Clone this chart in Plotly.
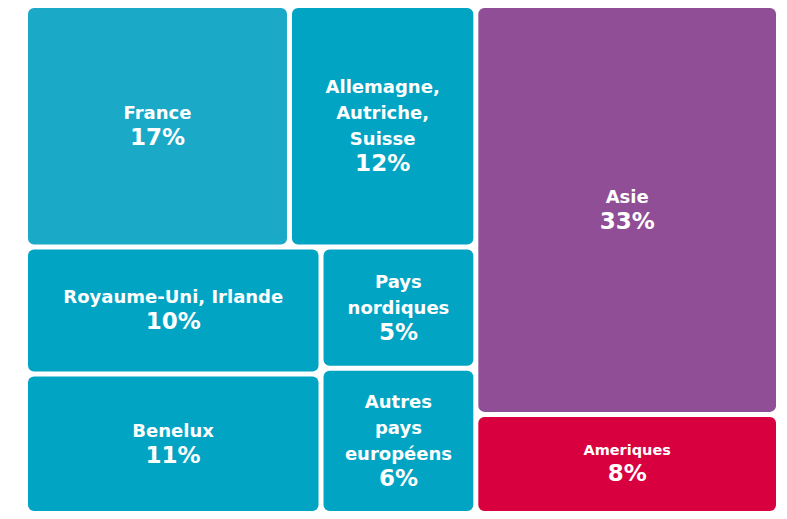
import plotly.graph_objects as go

# Régions (feuilles) et leurs parts en %
regions = ["France", "Allemagne", "Royaume-Uni", "Benelux", "Nordiques", "Autres", "Asie", "Ameriques"]
region_labels = [
    "France",
    "Allemagne,<br>Autriche,<br>Suisse",
    "Royaume-Uni, Irlande",
    "Benelux",
    "Pays<br>nordiques",
    "Autres<br>pays<br>européens",
    "Asie",
    "Ameriques",
]
shares = [17, 12, 10, 11, 5, 6, 33, 8]
region_parents = ["Haut", "Haut", "ColG", "ColG", "ColD", "ColD", "Monde", "Monde"]
region_colors = ["#1aa9c7", "#02a4c4", "#02a4c4", "#02a4c4", "#02a4c4", "#02a4c4", "#8f4e96", "#d8003e"]
label_sizes = [18, 18, 18, 18, 18, 18, 18, 14.5]
pct_sizes = [23, 23, 23, 23, 23, 23, 23, 23]

# Groupes invisibles qui servent à reproduire la disposition
groups = ["Total", "Europe", "Monde", "Haut", "Bas", "ColG", "ColD"]
group_parents = ["", "Total", "Total", "Europe", "Europe", "Bas", "Bas"]

ids = groups + regions
parents = group_parents + region_parents
values = [0] * len(groups) + shares
colors = ["rgba(0,0,0,0)"] * len(groups) + region_colors


def label_html(lab, v, ls, ps):
    lines = [f"<span style='font-size:{ls}px'>{l}</span>" for l in lab.split("<br>")]
    return "<br>".join(lines) + f"<br><span style='font-size:{ps}px'>{v}%</span>"


templates = [""] * len(groups) + [
    label_html(lab, v, ls, ps)
    for lab, v, ls, ps in zip(region_labels, shares, label_sizes, pct_sizes)
]

fig = go.Figure(
    go.Treemap(
        ids=ids,
        labels=ids,
        parents=parents,
        values=values,
        sort=False,
        texttemplate=templates,
        textposition="middle center",
        textfont=dict(family="DejaVu Sans", size=20, color="white", weight="bold"),
        hoverinfo="skip",
        marker=dict(
            colors=colors,
            cornerradius=6,
            line=dict(width=0),
            pad=dict(t=0, l=0, r=0, b=0),
        ),
        tiling=dict(packing="slice-dice", pad=5),
        pathbar=dict(visible=False),
        root=dict(color="rgba(0,0,0,0)"),
    )
)

# la page ajoute 8px de marge autour du graphique
fig.update_layout(
    width=771,
    height=503,
    margin=dict(l=20, r=3, t=0, b=0),
    paper_bgcolor="white",
    plot_bgcolor="white",
)

fig.write_html("out.html")
